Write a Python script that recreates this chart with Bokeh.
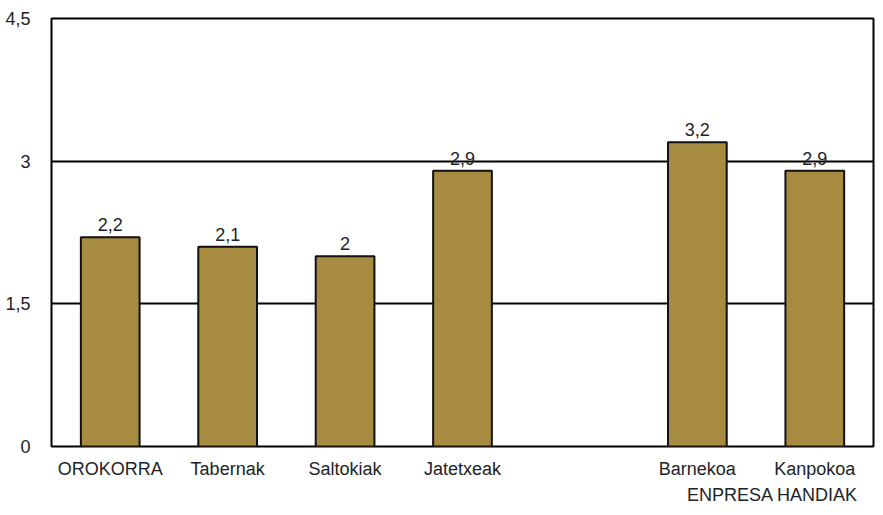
from bokeh.plotting import figure
from bokeh.models import ColumnDataSource, FixedTicker, LinearAxis, Range1d
from bokeh.core.properties import value
from bokeh.embed import file_html
from bokeh.resources import INLINE

categories = ["OROKORRA", "Tabernak", "Saltokiak", "Jatetxeak", "Barnekoa", "Kanpokoa"]
positions = [0, 1, 2, 3, 5, 6]
values = [2.2, 2.1, 2.0, 2.9, 3.2, 2.9]
group_label = "ENPRESA HANDIAK"
group_pos = 5.64
y_ticks = [0, 1.5, 3, 4.5]
y_tick_labels = ["0", "1,5", "3", "4,5"]

labels = [format(v, "g").replace(".", ",") for v in values]
src = ColumnDataSource(dict(x=positions, top=values, label=labels))

FONT = "Liberation Sans"
TXT = "#1c2328"
FS = "18px"

p = figure(width=875, height=507, output_backend="svg", toolbar_location=None,
           x_range=Range1d(-0.5, 6.5), y_range=Range1d(0, 4.5),
           min_border_left=51, min_border_top=18, min_border_bottom=50, min_border_right=2)
p.background_fill_color = "white"
p.border_fill_color = "white"
p.outline_line_color = "black"
p.outline_line_width = 2

p.vbar(x="x", top="top", width=0.5, bottom=0, source=src,
       fill_color="#a68b40", line_color="#111111", line_width=2)

p.text(x="x", y="top", text="label", source=src, text_align="center",
       text_baseline="bottom", y_offset=-6, text_font=value(FONT),
       text_font_size=FS, text_color=TXT)

p.xgrid.visible = False
p.ygrid.ticker = FixedTicker(ticks=y_ticks)
p.ygrid.grid_line_color = "black"
p.ygrid.grid_line_width = 2

p.yaxis.ticker = FixedTicker(ticks=y_ticks)
p.yaxis.major_label_overrides = {t: l for t, l in zip(y_ticks, y_tick_labels)}
p.yaxis.major_tick_line_color = None
p.yaxis.minor_tick_line_color = None
p.yaxis.axis_line_color = None
p.yaxis.major_label_standoff = 15
p.yaxis.major_label_text_font = FONT
p.yaxis.major_label_text_font_size = FS
p.yaxis.major_label_text_color = TXT

p.xaxis.ticker = FixedTicker(ticks=positions)
p.xaxis.major_label_overrides = {pp: c for pp, c in zip(positions, categories)}
p.xaxis.major_tick_line_color = None
p.xaxis.minor_tick_line_color = None
p.xaxis.axis_line_color = None
p.xaxis.major_label_standoff = 6
p.xaxis.major_label_text_font = FONT
p.xaxis.major_label_text_font_size = FS
p.xaxis.major_label_text_color = TXT

ax2 = LinearAxis(ticker=FixedTicker(ticks=[group_pos]),
                 major_label_overrides={group_pos: group_label},
                 major_tick_line_color=None, minor_tick_line_color=None,
                 axis_line_color=None, major_label_standoff=-3,
                 major_label_text_font=FONT, major_label_text_font_size=FS,
                 major_label_text_color=TXT)
p.add_layout(ax2, "below")

open("out.html", "w").write(file_html(p, INLINE))
